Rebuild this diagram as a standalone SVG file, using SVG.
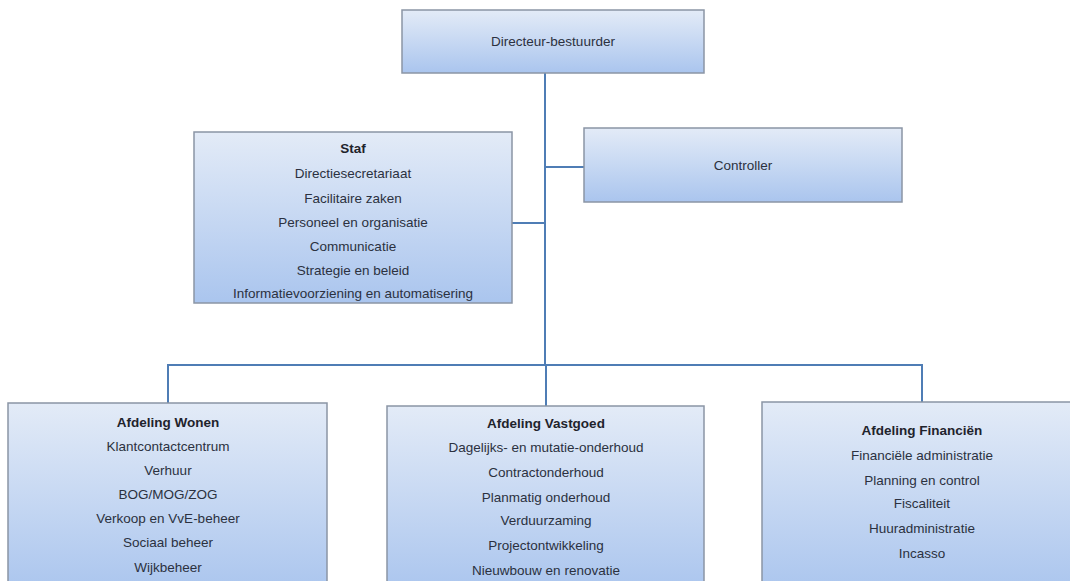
<svg xmlns="http://www.w3.org/2000/svg" width="1070" height="581" viewBox="0 0 1070 581">
<defs>
<linearGradient id="g" x1="0" y1="0" x2="0" y2="1">
<stop offset="0" stop-color="#e3ebf7"/>
<stop offset="1" stop-color="#aac5ee"/>
</linearGradient>
<style>
.box{fill:url(#g);stroke:#8b95a5;stroke-width:1.5}
.t{font-family:"Liberation Sans",Arial,sans-serif;font-size:13.5px;fill:#2b3140;text-anchor:middle}
.b{font-weight:bold;fill:#1f232c}
.c{fill:none;stroke:#4f7db5;stroke-width:2}
</style>
</defs>
<rect width="1070" height="581" fill="#ffffff"/>
<g id="connectors">
<path class="c" d="M545 73 V366"/>
<path class="c" d="M512 223 H545"/>
<path class="c" d="M545 167 H584"/>
<path class="c" d="M168 403 V365 H922 V402"/>
<path class="c" d="M546 365 V406"/>
</g>
<g id="directeur">
<rect class="box" x="402" y="10" width="302" height="63"/>
<text class="t" x="553" y="46">Directeur-bestuurder</text>
</g>
<g id="staf">
<rect class="box" x="194" y="132" width="318" height="171"/>
<text class="t b" x="353" y="153">Staf</text>
<text class="t" x="353" y="178">Directiesecretariaat</text>
<text class="t" x="353" y="203">Facilitaire zaken</text>
<text class="t" x="353" y="227">Personeel en organisatie</text>
<text class="t" x="353" y="251">Communicatie</text>
<text class="t" x="353" y="275">Strategie en beleid</text>
<text class="t" x="353" y="298">Informatievoorziening en automatisering</text>
</g>
<g id="controller">
<rect class="box" x="584" y="128" width="318" height="74"/>
<text class="t" x="743" y="170">Controller</text>
</g>
<g id="wonen">
<rect class="box" x="8" y="403" width="319" height="190"/>
<text class="t b" x="168" y="427">Afdeling Wonen</text>
<text class="t" x="168" y="451">Klantcontactcentrum</text>
<text class="t" x="168" y="475">Verhuur</text>
<text class="t" x="168" y="499">BOG/MOG/ZOG</text>
<text class="t" x="168" y="523">Verkoop en VvE-beheer</text>
<text class="t" x="168" y="547">Sociaal beheer</text>
<text class="t" x="168" y="572">Wijkbeheer</text>
</g>
<g id="vastgoed">
<rect class="box" x="387" y="406" width="317" height="187"/>
<text class="t b" x="546" y="428">Afdeling Vastgoed</text>
<text class="t" x="546" y="452">Dagelijks- en mutatie-onderhoud</text>
<text class="t" x="546" y="477">Contractonderhoud</text>
<text class="t" x="546" y="502">Planmatig onderhoud</text>
<text class="t" x="546" y="525">Verduurzaming</text>
<text class="t" x="546" y="550">Projectontwikkeling</text>
<text class="t" x="546" y="575">Nieuwbouw en renovatie</text>
</g>
<g id="financien">
<rect class="box" x="762" y="402" width="315" height="191"/>
<text class="t b" x="922" y="435">Afdeling Financiën</text>
<text class="t" x="922" y="460">Financiële administratie</text>
<text class="t" x="922" y="485">Planning en control</text>
<text class="t" x="922" y="508">Fiscaliteit</text>
<text class="t" x="922" y="533">Huuradministratie</text>
<text class="t" x="922" y="558">Incasso</text>
</g>
</svg>
